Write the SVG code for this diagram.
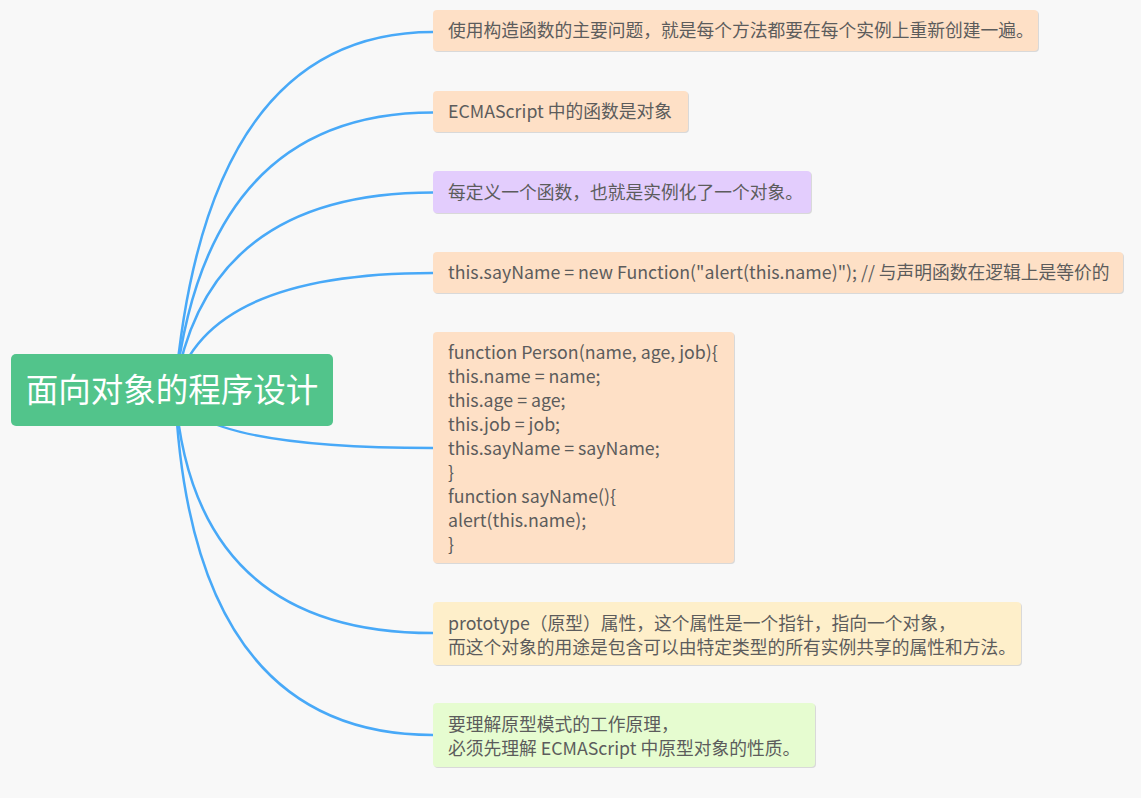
<svg xmlns="http://www.w3.org/2000/svg" width="1141" height="798" viewBox="0 0 1141 798">
<style>
.bg{fill:#f8f8f8}
.link{fill:none;stroke:#48a9f8;stroke-width:2.5;stroke-linecap:round}
.sh{fill:#d9d9d9}
.peach{fill:#fee0c6}
.purple{fill:#e3cdfd}
.yellow{fill:#feefca}
.green{fill:#e6fcd0}
.t{font-family:"Noto Sans CJK SC","Microsoft YaHei","Liberation Sans",sans-serif;font-size:17.75px;fill:#5c5c5c}
.root{font-family:"Noto Sans CJK SC","Microsoft YaHei","Liberation Sans",sans-serif;font-size:32.5px;fill:#ffffff;text-anchor:middle}
</style>
<rect class="bg" x="0" y="0" width="1141" height="798"/>
<g id="connectors">
<path class="link" d="M175,390 Q206,32 433,32"/>
<path class="link" d="M175,390 Q206,112.5 433,112.5"/>
<path class="link" d="M175,390 Q206,192.5 433,192.5"/>
<path class="link" d="M175,390 Q205,273 433,273"/>
<path class="link" d="M175,390 Q190,448 433,448"/>
<path class="link" d="M175,390 Q192,633 433,633"/>
<path class="link" d="M175,390 Q190,735 433,735"/>
</g>
<g id="root">
<rect x="11" y="354" width="322" height="72" rx="5" fill="#52c48b"/>
<text class="root" x="172" y="401.5">面向对象的程序设计</text>
</g>
<g id="n1">
<rect class="sh" x="434" y="11" width="605" height="41" rx="4"/>
<rect class="peach" x="433" y="10" width="605" height="41" rx="4"/>
<text class="t" x="448" y="37">使用构造函数的主要问题，就是每个方法都要在每个实例上重新创建一遍。</text>
</g>
<g id="n2">
<rect class="sh" x="434" y="92" width="255" height="41" rx="4"/>
<rect class="peach" x="433" y="91" width="255" height="41" rx="4"/>
<text class="t" x="448" y="118">ECMAScript 中的函数是对象</text>
</g>
<g id="n3">
<rect class="sh" x="434" y="172" width="378" height="42" rx="4"/>
<rect class="purple" x="433" y="171" width="378" height="42" rx="4"/>
<text class="t" x="448" y="198.5">每定义一个函数，也就是实例化了一个对象。</text>
</g>
<g id="n4">
<rect class="sh" x="434" y="253" width="690" height="41" rx="4"/>
<rect class="peach" x="433" y="252" width="690" height="41" rx="4"/>
<text class="t" x="448" y="279">this.sayName = new Function("alert(this.name)"); // 与声明函数在逻辑上是等价的</text>
</g>
<g id="n5">
<rect class="sh" x="434" y="333" width="301" height="231" rx="4"/>
<rect class="peach" x="433" y="332" width="301" height="231" rx="4"/>
<text class="t" x="448" y="358.5">function Person(name, age, job){</text>
<text class="t" x="448" y="382.5">this.name = name;</text>
<text class="t" x="448" y="406.5">this.age = age;</text>
<text class="t" x="448" y="430.5">this.job = job;</text>
<text class="t" x="448" y="454.5">this.sayName = sayName;</text>
<text class="t" x="448" y="478.5">}</text>
<text class="t" x="448" y="502.5">function sayName(){</text>
<text class="t" x="448" y="526.5">alert(this.name);</text>
<text class="t" x="448" y="550.5">}</text>
</g>
<g id="n6">
<rect class="sh" x="434" y="603" width="588" height="63" rx="4"/>
<rect class="yellow" x="433" y="602" width="588" height="63" rx="4"/>
<text class="t" x="448" y="629.5">prototype（原型）属性，这个属性是一个指针，指向一个对象，</text>
<text class="t" x="448" y="653.5">而这个对象的用途是包含可以由特定类型的所有实例共享的属性和方法。</text>
</g>
<g id="n7">
<rect class="sh" x="434" y="704" width="382" height="64" rx="4"/>
<rect class="green" x="433" y="703" width="382" height="64" rx="4"/>
<text class="t" x="448" y="730.5">要理解原型模式的工作原理，</text>
<text class="t" x="448" y="754.5">必须先理解 ECMAScript 中原型对象的性质。</text>
</g>
</svg>
